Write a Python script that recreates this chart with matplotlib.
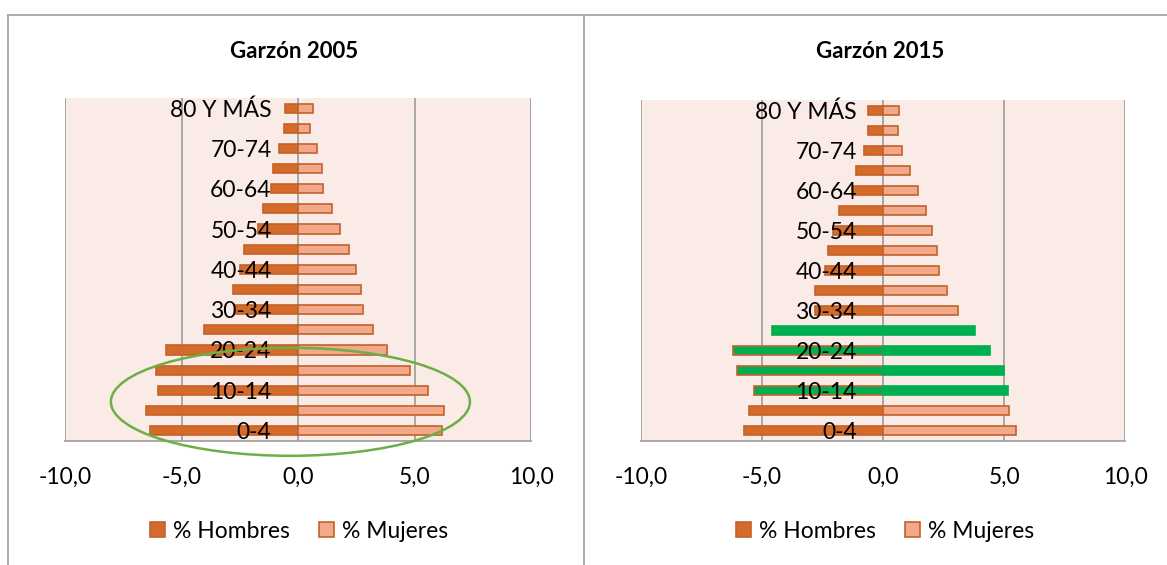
import numpy as np
import matplotlib
matplotlib.use('Agg')
import matplotlib.pyplot as plt
from matplotlib.patches import Ellipse
from matplotlib.lines import Line2D

plt.rcParams['font.family'] = ['Lato', 'DejaVu Sans']

# age groups, bottom to top
categories = ['0-4', '5-9', '10-14', '15-19', '20-24', '25-29', '30-34', '35-39',
              '40-44', '45-49', '50-54', '55-59', '60-64', '65-69', '70-74',
              '75-79', '80 Y MÁS']

hombres_2005 = [-6.37, -6.51, -6.0, -6.09, -5.67, -4.04, -2.7, -2.8, -2.5,
                -2.33, -1.73, -1.51, -1.16, -1.09, -0.81, -0.59, -0.57]
mujeres_2005 = [6.17, 6.26, 5.59, 4.8, 3.81, 3.24, 2.81, 2.71, 2.5,
                2.19, 1.81, 1.46, 1.07, 1.03, 0.81, 0.5, 0.63]

hombres_2015 = [-5.73, -5.54, -5.35, -6.02, -6.22, -4.6, -2.8, -2.82, -2.41,
                -2.29, -2.07, -1.84, -1.3, -1.13, -0.78, -0.63, -0.62]
mujeres_2015 = [5.47, 5.18, 5.15, 5.0, 4.43, 3.81, 3.09, 2.64, 2.32,
                2.24, 2.02, 1.79, 1.43, 1.09, 0.77, 0.63, 0.67]

# rows painted green in the 2015 chart
destacados_2015 = ['10-14', '15-19', '20-24', '25-29']

xticks = [-10, -5, 0, 5, 10]
xticklabels = ['{:.1f}'.format(v).replace('.', ',') for v in xticks]

c_hom = '#D46B2A'
c_muj = '#F2A98A'
c_edge = '#C2622C'
c_green = '#00B050'
c_bg = '#FAEBE7'
c_grid = '#9C9C9C'
FS = 16.5

W, H = 1167, 565
fig = plt.figure(figsize=(W / 100, H / 100), dpi=100)


def px(x0, y0, x1, y1):
    # pixel box -> figure fraction [left, bottom, width, height]
    return [x0 / W, 1 - y1 / H, (x1 - x0) / W, (y1 - y0) / H]


def piramide(ax, hombres, mujeres, titulo, tcx, destacados=()):
    y = np.arange(len(categories))
    fc_h = [c_green if c in destacados else c_hom for c in categories]
    fc_m = [c_green if c in destacados else c_muj for c in categories]
    ec_h = [c_green if c == '25-29' and c in destacados else c_edge for c in categories]
    ec_m = [c_green if c in destacados else c_edge for c in categories]
    ax.barh(y, hombres, height=0.45, color=fc_h, edgecolor=ec_h, linewidth=1.2,
            label='% Hombres', zorder=2)
    ax.barh(y, mujeres, height=0.45, color=fc_m, edgecolor=ec_m, linewidth=1.2,
            label='% Mujeres', zorder=2)
    ax.set_facecolor(c_bg)
    ax.spines['left'].set_position(('data', 0))
    ax.spines['left'].set_visible(False)
    ax.spines['top'].set_visible(False)
    ax.spines['right'].set_visible(False)
    ax.spines['bottom'].set_color(c_grid)
    ax.spines['bottom'].set_linewidth(1.2)
    ax.set_xlim(-10, 10)
    ax.set_ylim(-0.5, len(categories) - 0.5)
    ax.set_xticks(xticks)
    ax.set_xticklabels(xticklabels)
    ax.set_yticks(y[::2])
    ax.set_yticklabels(categories[::2])
    ax.tick_params(length=0, labelsize=FS)
    ax.tick_params(axis='x', pad=19)
    ax.tick_params(axis='y', pad=19)
    for xv in xticks:
        ax.axvline(xv, color=c_grid, lw=1.2, zorder=1.5)
    ax.yaxis.set_zorder(5)
    fig.text(tcx / W, 1 - 52 / H, titulo, ha='center', va='center',
             fontsize=16, fontweight='bold')
    fig.legend(*ax.get_legend_handles_labels(), loc='center',
               bbox_to_anchor=((tcx + 5) / W, 1 - 531 / H), ncol=2, frameon=False,
               fontsize=FS, handlelength=0.65, handleheight=0.65,
               handletextpad=0.35, columnspacing=1.3)


ax1 = fig.add_axes(px(65, 98, 531, 440.7))
piramide(ax1, hombres_2005, mujeres_2005, 'Garzón 2005', 294)

ax2 = fig.add_axes(px(641, 100, 1125.3, 440.7))
piramide(ax2, hombres_2015, mujeres_2015, 'Garzón 2015', 880, destacados_2015)

# green ellipse drawn over the young age groups of 2005
fig.add_artist(Ellipse((290.4 / W, 1 - 401.8 / H), 359 / W, 108 / H,
                       transform=fig.transFigure, fill=False,
                       edgecolor='#6DAE45', lw=1.8, clip_on=False, zorder=10))

# chart frames
for (xs, ys) in [([7.7, 7.7], [14.5, 565]), ([583.5, 583.5], [14.5, 565]),
                 ([7.7, 1167], [14.5, 14.5])]:
    fig.add_artist(Line2D([x / W for x in xs], [1 - v / H for v in ys],
                          color='#A6A6A6', lw=1.3, transform=fig.transFigure))

fig.savefig('out.png', dpi=100)
